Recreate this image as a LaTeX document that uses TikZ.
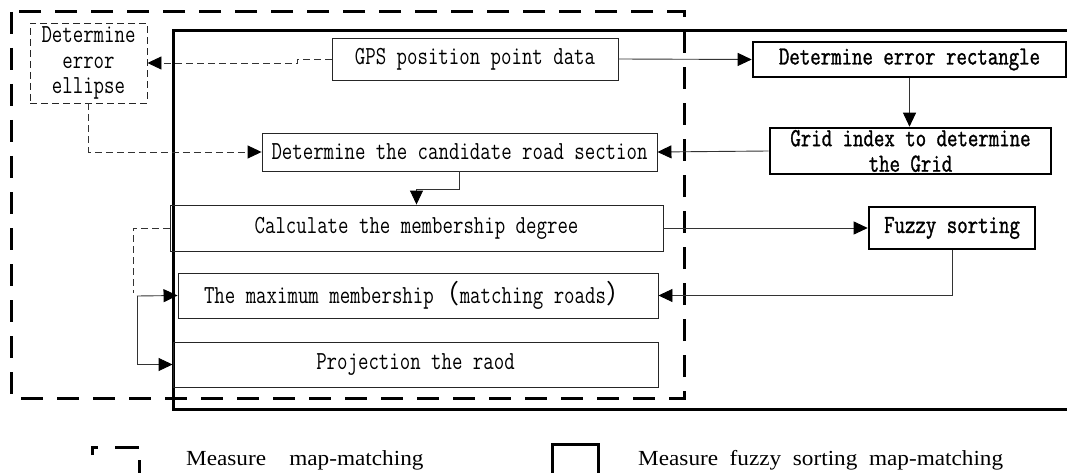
\documentclass[tikz,border=0pt]{standalone}
\usepackage{fontspec}
\setmainfont{Liberation Serif}[FakeStretch=1.08,WordSpace=2]
\newfontfamily\boxfont{Latin Modern Mono}[FakeStretch=0.78]
\newfontfamily\boxfontb{Latin Modern Mono}[FakeStretch=0.78,FakeBold=1.2]
\newfontfamily\cjk{Noto Sans CJK SC}
\usetikzlibrary{arrows.meta}
\begin{document}
\begin{tikzpicture}[x=1pt,y=-1pt,
  nbox/.style={draw=black!85, line width=0.9pt, inner sep=0pt, align=center,
    font=\boxfont\fontsize{26}{25.5}\selectfont},
  dbox/.style={nbox, dash pattern=on 7pt off 4pt},
  tbox/.style={draw=black, line width=2.6pt, inner sep=0pt, align=center,
    font=\boxfontb\fontsize{26}{25.5}\selectfont},
  cline/.style={draw=black!80, line width=0.9pt},
  dline/.style={cline, dash pattern=on 7pt off 4pt},
  arr/.style={-{Triangle[length=14pt,width=13pt,color=black]}},
  frame/.style={line width=3pt},
  legtext/.style={anchor=west, inner sep=0pt, font=\fontsize{21.5}{23}\selectfont}
]
\useasboundingbox (0,0) rectangle (1067,473);

% frames
\draw[frame, dash pattern=on 22pt off 14pt] (11,12) rectangle (684,398);
\draw[frame] (1080,31) -- (173,31) -- (173,409) -- (1080,409);

% nodes
\node[dbox, minimum width=117pt, minimum height=80pt] (ell) at (88.5,63) {Determine\\error\\ellipse};
\node[nbox, fill=white, minimum width=286pt, minimum height=42pt] (gps) at (475,59) {GPS position point data};
\node[tbox, fill=white, minimum width=313pt, minimum height=35pt] (der) at (909.5,59.5) {Determine error rectangle};
\node[nbox, fill=white, minimum width=395pt, minimum height=38pt] (cand) at (459.5,152) {Determine the candidate road section};
\node[tbox, fill=white, minimum width=281pt, minimum height=46pt] (grid) at (910.5,151) {Grid index to determine\\the Grid};
\node[nbox, minimum width=493pt, minimum height=46pt] (calc) at (416.5,228) {Calculate the membership degree};
\node[tbox, fill=white, minimum width=166pt, minimum height=42pt] (fuz) at (952,228) {Fuzzy sorting};
\node[nbox, minimum width=480pt, minimum height=45pt] (max) at (418,295.5) {The maximum membership{\cjk （}matching roads{\cjk ）}};
\node[nbox, minimum width=485pt, minimum height=45pt] (proj) at (415.5,364.5) {Projection the raod};

% helper coordinates
\coordinate (j1) at (297,59);
\coordinate (j2) at (297,63);
\coordinate (c1) at (459.5,189);
\coordinate (d1) at (133,293);
\coordinate (br) at (137,296);

% connectors
\draw[dline, arr] (gps.west) -- (j1) -- (j2) -- (ell.east);
\draw[cline, arr] (gps.east) -- (der.west);
\draw[cline, arr] (der.south) -- (der.south |- grid.north);
\draw[cline, arr] (grid.west) -- (cand.east);
\draw[dline, arr] (ell.south) |- (cand.west);
\draw[cline, arr] (cand.south) -- (c1) -| (calc.north);
\draw[cline, arr] (calc.east) -- (fuz.west);
\draw[cline, arr] (fuz.south) |- (max.east);
\draw[dline] (calc.west) -| (d1);
\draw[cline, arr] (br) -- (max.west);
\draw[cline, arr] (br) |- (proj.west);

% legend
\draw[frame, dash pattern=on 14pt off 17pt on 24pt off 13pt on 40pt] (92,455) -- (92,447) -- (139,447) -- (139,500);
\node[legtext] (l1) at (186,460) {Measure\ \ map-matching};
\draw[frame] (552,490) -- (552,444) -- (598,444) -- (598,490);
\node[legtext] (l2) at (638,460) {Measure fuzzy sorting map-matching};
\end{tikzpicture}
\end{document}
